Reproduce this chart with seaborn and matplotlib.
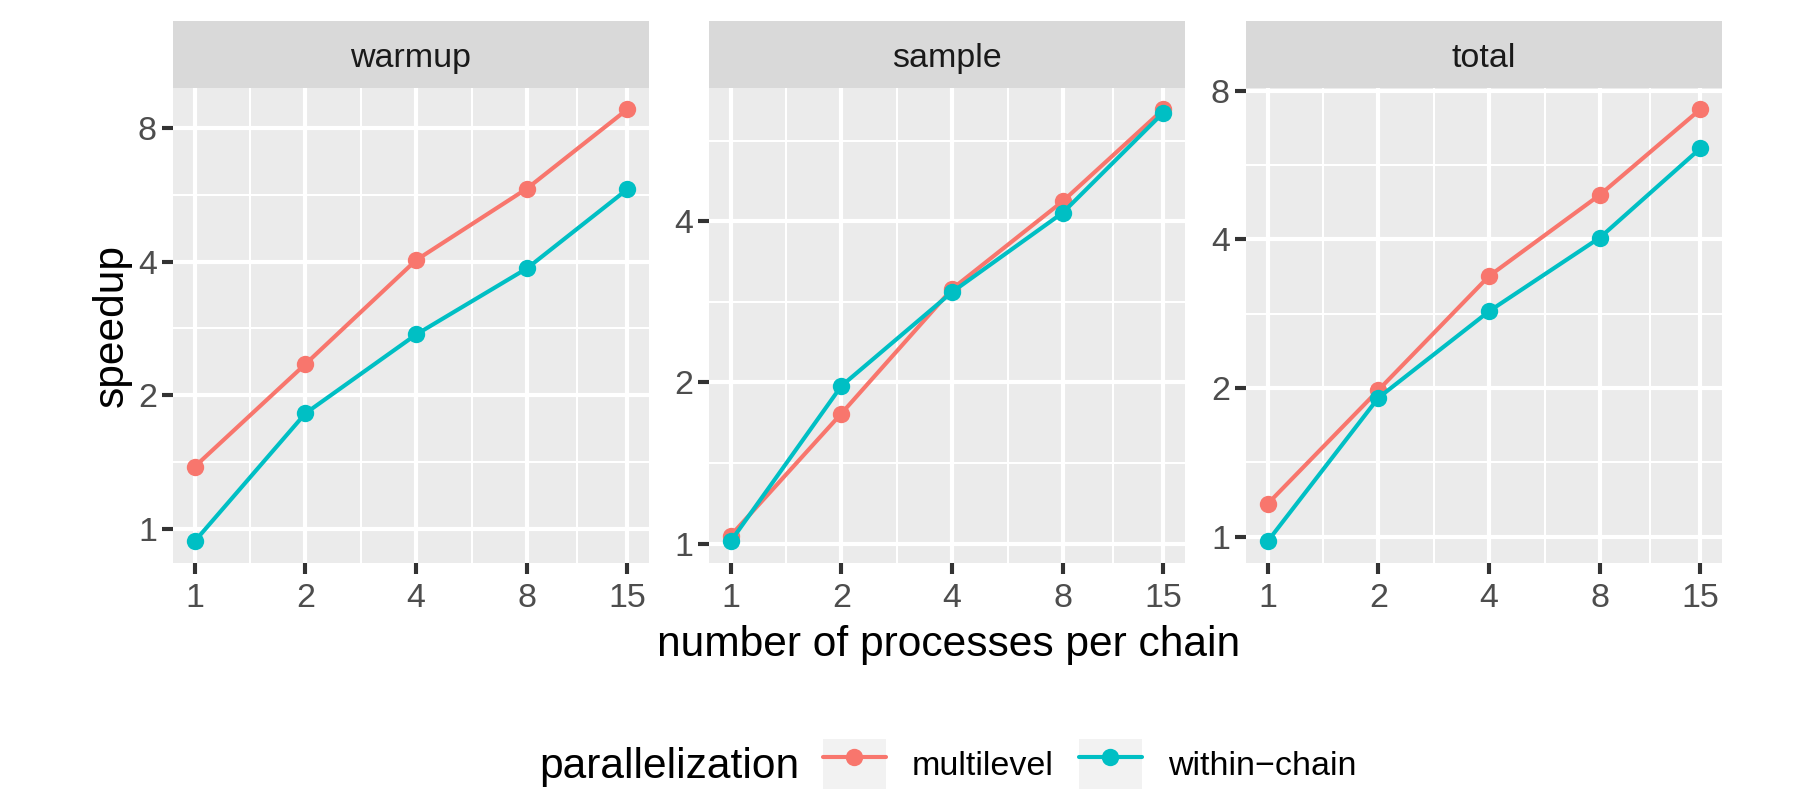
import numpy as np
import pandas as pd
import matplotlib
matplotlib.use('Agg')
import matplotlib.pyplot as plt
import seaborn as sns
from matplotlib.patches import Rectangle, Patch
from matplotlib.lines import Line2D
from matplotlib.ticker import NullFormatter

# values (speedup, log2 axes)
phases = ['warmup', 'sample', 'total']
procs = [1, 2, 4, 8, 15]
proc_labels = ['1', '2', '4', '8', '15']
methods = ['multilevel', 'within-chain']
method_labels = ['multilevel', 'within\u2212chain']

warmup_multilevel = [1.38, 2.35, 4.03, 5.84, 8.81]
warmup_within = [0.937, 1.82, 2.74, 3.86, 5.82]
sample_multilevel = [1.035, 1.75, 2.99, 4.36, 6.47]
sample_within = [1.01, 1.97, 2.95, 4.15, 6.38]
total_multilevel = [1.165, 1.98, 3.37, 4.92, 7.33]
total_within = [0.978, 1.91, 2.86, 4.03, 6.11]

y_breaks = [1, 2, 4, 8]

series = {
    ('warmup', 'multilevel'): warmup_multilevel,
    ('warmup', 'within-chain'): warmup_within,
    ('sample', 'multilevel'): sample_multilevel,
    ('sample', 'within-chain'): sample_within,
    ('total', 'multilevel'): total_multilevel,
    ('total', 'within-chain'): total_within,
}
rows = []
for (ph, m), vals in series.items():
    for p, v in zip(procs, vals):
        rows.append({'phase': ph, 'parallelization': m, 'procs': p, 'speedup': v})
df = pd.DataFrame(rows)

colors = {'multilevel': '#F8766D', 'within-chain': '#00BFC4'}

sns.set_style('white')
plt.rcParams['font.family'] = ['Liberation Sans', 'DejaVu Sans']
plt.rcParams['text.color'] = 'black'

W, H = 1800, 794
fig = plt.figure(figsize=(18, 7.94), dpi=100)

lefts = [173, 709, 1246]
pw = 476
top_px, bot_px = 87.7, 563
ph_px = bot_px - top_px
lw = 2.96

def log_limits(vals):
    lo, hi = np.log2(min(vals)), np.log2(max(vals))
    pad = 0.05 * (hi - lo)
    return 2 ** (lo - pad), 2 ** (hi + pad)

def midpoints(breaks):
    return [np.sqrt(a * b) for a, b in zip(breaks[:-1], breaks[1:])]

for i, ph in enumerate(phases):
    ax = fig.add_axes([lefts[i] / W, 1 - bot_px / H, pw / W, ph_px / H])
    ax.set_facecolor('#EBEBEB')
    sub = df[df['phase'] == ph]
    sns.lineplot(data=sub, x='procs', y='speedup', hue='parallelization',
                 hue_order=methods, palette=colors, marker='o', markersize=12.5,
                 markeredgewidth=0, linewidth=lw, errorbar=None, legend=False, ax=ax)
    ax.set_xscale('log', base=2)
    ax.set_yscale('log', base=2)
    ax.set_xlim(*log_limits(procs))
    ylo, yhi = log_limits(sub['speedup'].tolist())
    ax.set_ylim(ylo, yhi)

    ax.set_xticks(procs, labels=proc_labels)
    ax.set_xticks(midpoints(procs), minor=True)
    ax.xaxis.set_minor_formatter(NullFormatter())
    yb = [b for b in y_breaks if ylo <= b <= yhi]
    ax.set_yticks(yb, labels=[str(b) for b in yb])
    ybm = [0.5 ** 0.5] + midpoints(y_breaks + [16])
    ax.set_yticks([b for b in ybm if ylo <= b <= yhi], minor=True)
    ax.yaxis.set_minor_formatter(NullFormatter())
    ax.set_ylim(ylo, yhi)

    ax.grid(which='major', color='white', linewidth=lw)
    ax.grid(which='minor', color='white', linewidth=lw / 2)
    ax.set_axisbelow(True)
    ax.tick_params(which='minor', length=0, bottom=False, left=False)
    ax.tick_params(which='major', length=7.6, width=lw, color='#333333',
                   labelcolor='#4D4D4D', labelsize=24.5, bottom=True, left=True)
    ax.tick_params(axis='x', pad=7.0)
    ax.tick_params(axis='y', pad=4.0)
    for s in ax.spines.values():
        s.set_visible(False)
    ax.set_xlabel('')
    ax.set_ylabel('')

    # facet strip
    sh = 67 / ph_px
    ax.add_patch(Rectangle((0, 1), 1, sh, transform=ax.transAxes,
                           facecolor='#D9D9D9', edgecolor='none', clip_on=False))
    ax.text(0.5, 1 + 21 / ph_px, ph, transform=ax.transAxes, ha='center',
            va='baseline', fontsize=24.5, color='#1A1A1A')

fig.text(949 / W, 1 - 656 / H, 'number of processes per chain', fontsize=30.6,
         ha='center', va='baseline', color='black')
fig.text(123 / W, 1 - 325 / H, 'speedup', fontsize=30.6, rotation=90,
         rotation_mode='anchor', ha='center', va='baseline', color='black')

# legend
fig.text(539 / W, 1 - 778 / H, 'parallelization', fontsize=30.6,
         ha='left', va='baseline', color='black')
handles = [(Patch(facecolor='#F2F2F2', edgecolor='none'),
            Line2D([], [], color=colors[m], lw=lw, marker='o', markersize=12.5,
                   markeredgewidth=0)) for m in methods]
leg = fig.legend(handles, method_labels, loc='center left',
                 bbox_to_anchor=(823 / W, 1 - 764 / H), ncol=2, frameon=False,
                 fontsize=24.5, handlelength=1.85, handleheight=1.85,
                 handletextpad=0.76, columnspacing=0.74, borderpad=0,
                 borderaxespad=0)
for t in leg.get_texts():
    t.set_color('black')

fig.savefig('out.png', dpi=100)
